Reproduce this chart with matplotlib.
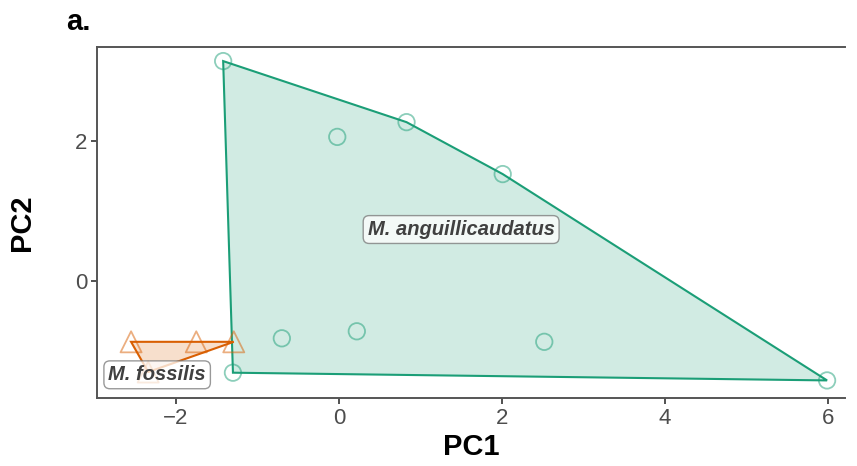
import matplotlib.pyplot as plt
import numpy as np

plt.rcParams['font.family'] = ['Liberation Sans', 'DejaVu Sans']

# PCA scores
ang_pc1 = [-1.42, -0.02, 0.83, 2.01, -0.70, 0.22, 2.52, -1.30, 5.99]
ang_pc2 = [3.14, 2.06, 2.27, 1.53, -0.81, -0.71, -0.86, -1.30, -1.41]
fos_pc1 = [-2.55, -1.75, -1.29, -2.34]
fos_pc2 = [-0.86, -0.86, -0.86, -1.29]

species = ["M. anguillicaudatus", "M. fossilis"]
label_x = [1.5, -2.23]
label_y = [0.74, -1.33]
colors = ["#1B9E77", "#D95F02"]


def hull(x, y):
    # monotone chain convex hull
    pts = sorted(zip(x, y))

    def cross(o, a, b):
        return (a[0] - o[0]) * (b[1] - o[1]) - (a[1] - o[1]) * (b[0] - o[0])

    lower, upper = [], []
    for p in pts:
        while len(lower) >= 2 and cross(lower[-2], lower[-1], p) <= 0:
            lower.pop()
        lower.append(p)
    for p in reversed(pts):
        while len(upper) >= 2 and cross(upper[-2], upper[-1], p) <= 0:
            upper.pop()
        upper.append(p)
    return np.array(lower[:-1] + upper[:-1])


fig = plt.figure(figsize=(8.57, 4.66), dpi=100)
ax = fig.add_axes([0.113, 0.146, 0.873, 0.753])

groups = [(ang_pc1, ang_pc2, "o"), (fos_pc1, fos_pc2, "^")]
for (gx, gy, mk), col in zip(groups, colors):
    h = hull(gx, gy)
    ax.fill(h[:, 0], h[:, 1], facecolor=col, alpha=0.2, edgecolor="none", zorder=1)
    ax.fill(h[:, 0], h[:, 1], facecolor="none", edgecolor=col, lw=1.5, zorder=2)
    size = 140 if mk == "o" else 230
    ax.scatter(gx, gy, s=size, marker=mk, facecolors="none", edgecolors=col,
               linewidths=1.3, alpha=0.5, zorder=3)

# species labels
for name, lx, ly in zip(species, label_x, label_y):
    ax.text(lx, ly, name, fontsize=14.5, fontweight="bold", fontstyle="italic",
            color="#404040", ha="center", va="center", zorder=5,
            bbox=dict(boxstyle="round,pad=0.22,rounding_size=0.3",
                      fc="white", ec="#777777", lw=1.0, alpha=0.75))

ax.set_xlim(-2.97, 6.21)
ax.set_ylim(-1.66, 3.34)
ax.set_xticks([-2, 0, 2, 4, 6])
ax.set_yticks([0, 2])
ax.tick_params(labelsize=16, labelcolor="#4D4D4D", color="#333333",
               length=4, width=1.2, pad=3)

for side in ["left", "bottom", "top"]:
    ax.spines[side].set_color("#555555")
    ax.spines[side].set_linewidth(1.4)
ax.spines["right"].set_visible(False)

ax.set_xlabel("PC1", fontsize=21, fontweight="bold", labelpad=3)
ax.set_ylabel("PC2", fontsize=21, fontweight="bold", labelpad=28)

fig.text(0.077, 0.936, "a.", fontsize=21, fontweight="bold", ha="left", va="baseline")

fig.savefig("out.png", dpi=100)
